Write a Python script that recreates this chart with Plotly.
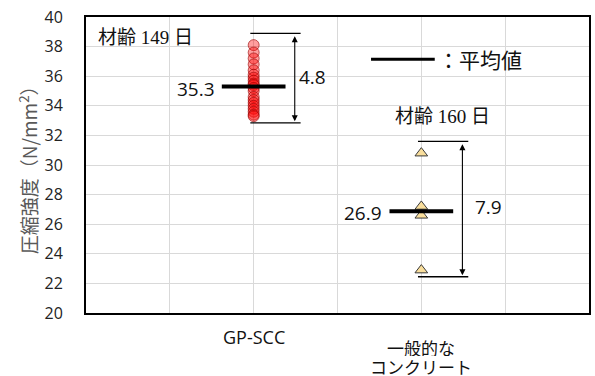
import plotly.graph_objects as go

# Compressive strength of individual specimens (N/mm²)
categories = ["GP-SCC", "一般的な", "コンクリート"]
ages = ["材齢 149 日", "材齢 160 日"]
gp_scc = [38.1, 37.6, 37.2, 36.8, 36.4, 36.1, 35.9, 35.7, 35.5, 35.4,
          35.2, 35.0, 34.6, 34.4, 34.2, 34.0, 33.8, 33.6, 33.4, 33.3]
general = [30.8, 27.2, 26.6, 22.9]
y_ticks = [20, 22, 24, 26, 28, 30, 32, 34, 36, 38, 40]

series = [gp_scc, general]
xpos = [1, 2]

fig = go.Figure()

fig.add_trace(go.Scatter(
    x=[xpos[0]] * len(gp_scc), y=gp_scc, mode="markers",
    marker=dict(symbol="circle", size=11, color="rgba(255,0,0,0.38)",
                line=dict(color="rgba(150,0,0,0.6)", width=1)),
    showlegend=False, hoverinfo="y"))

fig.add_trace(go.Scatter(
    x=[xpos[1]] * len(general), y=general, mode="markers",
    marker=dict(symbol="triangle-up", size=11, color="#F9DE9C",
                line=dict(color="#3a3a3a", width=1)),
    showlegend=False, hoverinfo="y"))

num_font = dict(family="Open Sans, Noto Sans CJK JP", size=19, color="#111")
age_font = dict(family="Liberation Serif, Noto Sans CJK JP", size=19, color="#111")

shapes = []
annotations = []
half = 0.19
range_label_dy = [0.05, 0.15]
range_label_dx = [0.26, 0.31]
for i, (vals, x) in enumerate(zip(series, xpos)):
    mean = sum(vals) / len(vals)
    lo, hi = min(vals), max(vals)
    rng = hi - lo
    # mean bar
    shapes.append(dict(type="line", xref="x", yref="y", x0=x - half, x1=x + half,
                       y0=mean, y1=mean, line=dict(color="black", width=4)))
    annotations.append(dict(xref="x", yref="y", x=x - half - 0.03, y=mean - 0.15,
                            text=f"{mean:.1f}", showarrow=False, xanchor="right",
                            yanchor="middle", font=num_font))
    # range bracket
    top, bot = hi + 0.8, lo - 0.45
    for yy in (top, bot):
        shapes.append(dict(type="line", xref="x", yref="y", x0=x - 0.02, x1=x + 0.28,
                           y0=yy, y1=yy, line=dict(color="black", width=1.3)))
    ax = x + 0.245
    annotations.append(dict(xref="x", yref="y", axref="x", ayref="y",
                            x=ax, y=bot + 0.1, ax=ax, ay=top - 0.1, text="",
                            showarrow=True, arrowhead=2, arrowside="end+start",
                            arrowsize=1.1, arrowwidth=1.1, arrowcolor="black"))
    annotations.append(dict(xref="x", yref="y", x=x + range_label_dx[i],
                            y=(top + bot) / 2 + range_label_dy[i],
                            text=f"{rng:.1f}", showarrow=False, xanchor="left",
                            yanchor="middle", font=num_font))

# age labels
annotations.append(dict(xref="x", yref="y", x=0.06, y=38.6, text=ages[0],
                        showarrow=False, xanchor="left", yanchor="middle", font=age_font))
annotations.append(dict(xref="x", yref="y", x=1.83, y=33.25, text=ages[1],
                        showarrow=False, xanchor="left", yanchor="middle", font=age_font))

# legend key for the mean bar
shapes.append(dict(type="line", xref="x", yref="y", x0=1.70, x1=2.08,
                   y0=37.15, y1=37.15, line=dict(color="black", width=3)))
annotations.append(dict(xref="x", yref="y", x=2.09, y=37.15, text="：平均値",
                        showarrow=False, xanchor="left", yanchor="middle",
                        font=dict(family="Noto Sans CJK JP", size=21, color="#111")))

# category labels below the axis
annotations.append(dict(xref="x", yref="paper", x=xpos[0], y=-0.035, text=categories[0],
                        showarrow=False, xanchor="center", yanchor="top",
                        font=dict(family="Open Sans", size=18, color="#111")))
cjk_cat_font = dict(family="Noto Sans CJK JP", size=17, color="#111")
annotations.append(dict(xref="x", yref="paper", x=xpos[1], y=-0.115, text=categories[1],
                        showarrow=False, xanchor="center", yanchor="middle",
                        height=18, borderpad=0, font=cjk_cat_font))
annotations.append(dict(xref="x", yref="paper", x=xpos[1], y=-0.178, text=categories[2],
                        showarrow=False, xanchor="center", yanchor="middle",
                        height=18, borderpad=0, font=cjk_cat_font))

# y-axis title
annotations.append(dict(xref="paper", yref="paper", x=-0.115, y=0.5,
                        text="圧縮強度（N/mm<sup>2</sup>）", textangle=-90, showarrow=False,
                        xanchor="center", yanchor="middle",
                        font=dict(family="Noto Sans CJK JP", size=19, color="#595959")))

fig.update_layout(
    width=595, height=376,
    margin=dict(l=86, r=4, t=17, b=63),
    paper_bgcolor="white", plot_bgcolor="white",
    shapes=shapes, annotations=annotations,
    xaxis=dict(range=[0, 3], tickvals=[0.5, 1, 1.5, 2, 2.5], showticklabels=False,
               showgrid=True, gridcolor="#D9D9D9", gridwidth=1, zeroline=False,
               showline=True, linecolor="black", linewidth=2, mirror=True,
               fixedrange=True),
    yaxis=dict(range=[20, 40], tickvals=y_ticks, showgrid=True, gridcolor="#D9D9D9",
               gridwidth=1, zeroline=False, showline=True, linecolor="black",
               linewidth=2, mirror=True, ticks="outside", ticklen=0,
               ticklabelstandoff=18,
               tickfont=dict(family="Open Sans", size=16, color="#222"),
               fixedrange=True),
)

fig.write_html("out.html")
